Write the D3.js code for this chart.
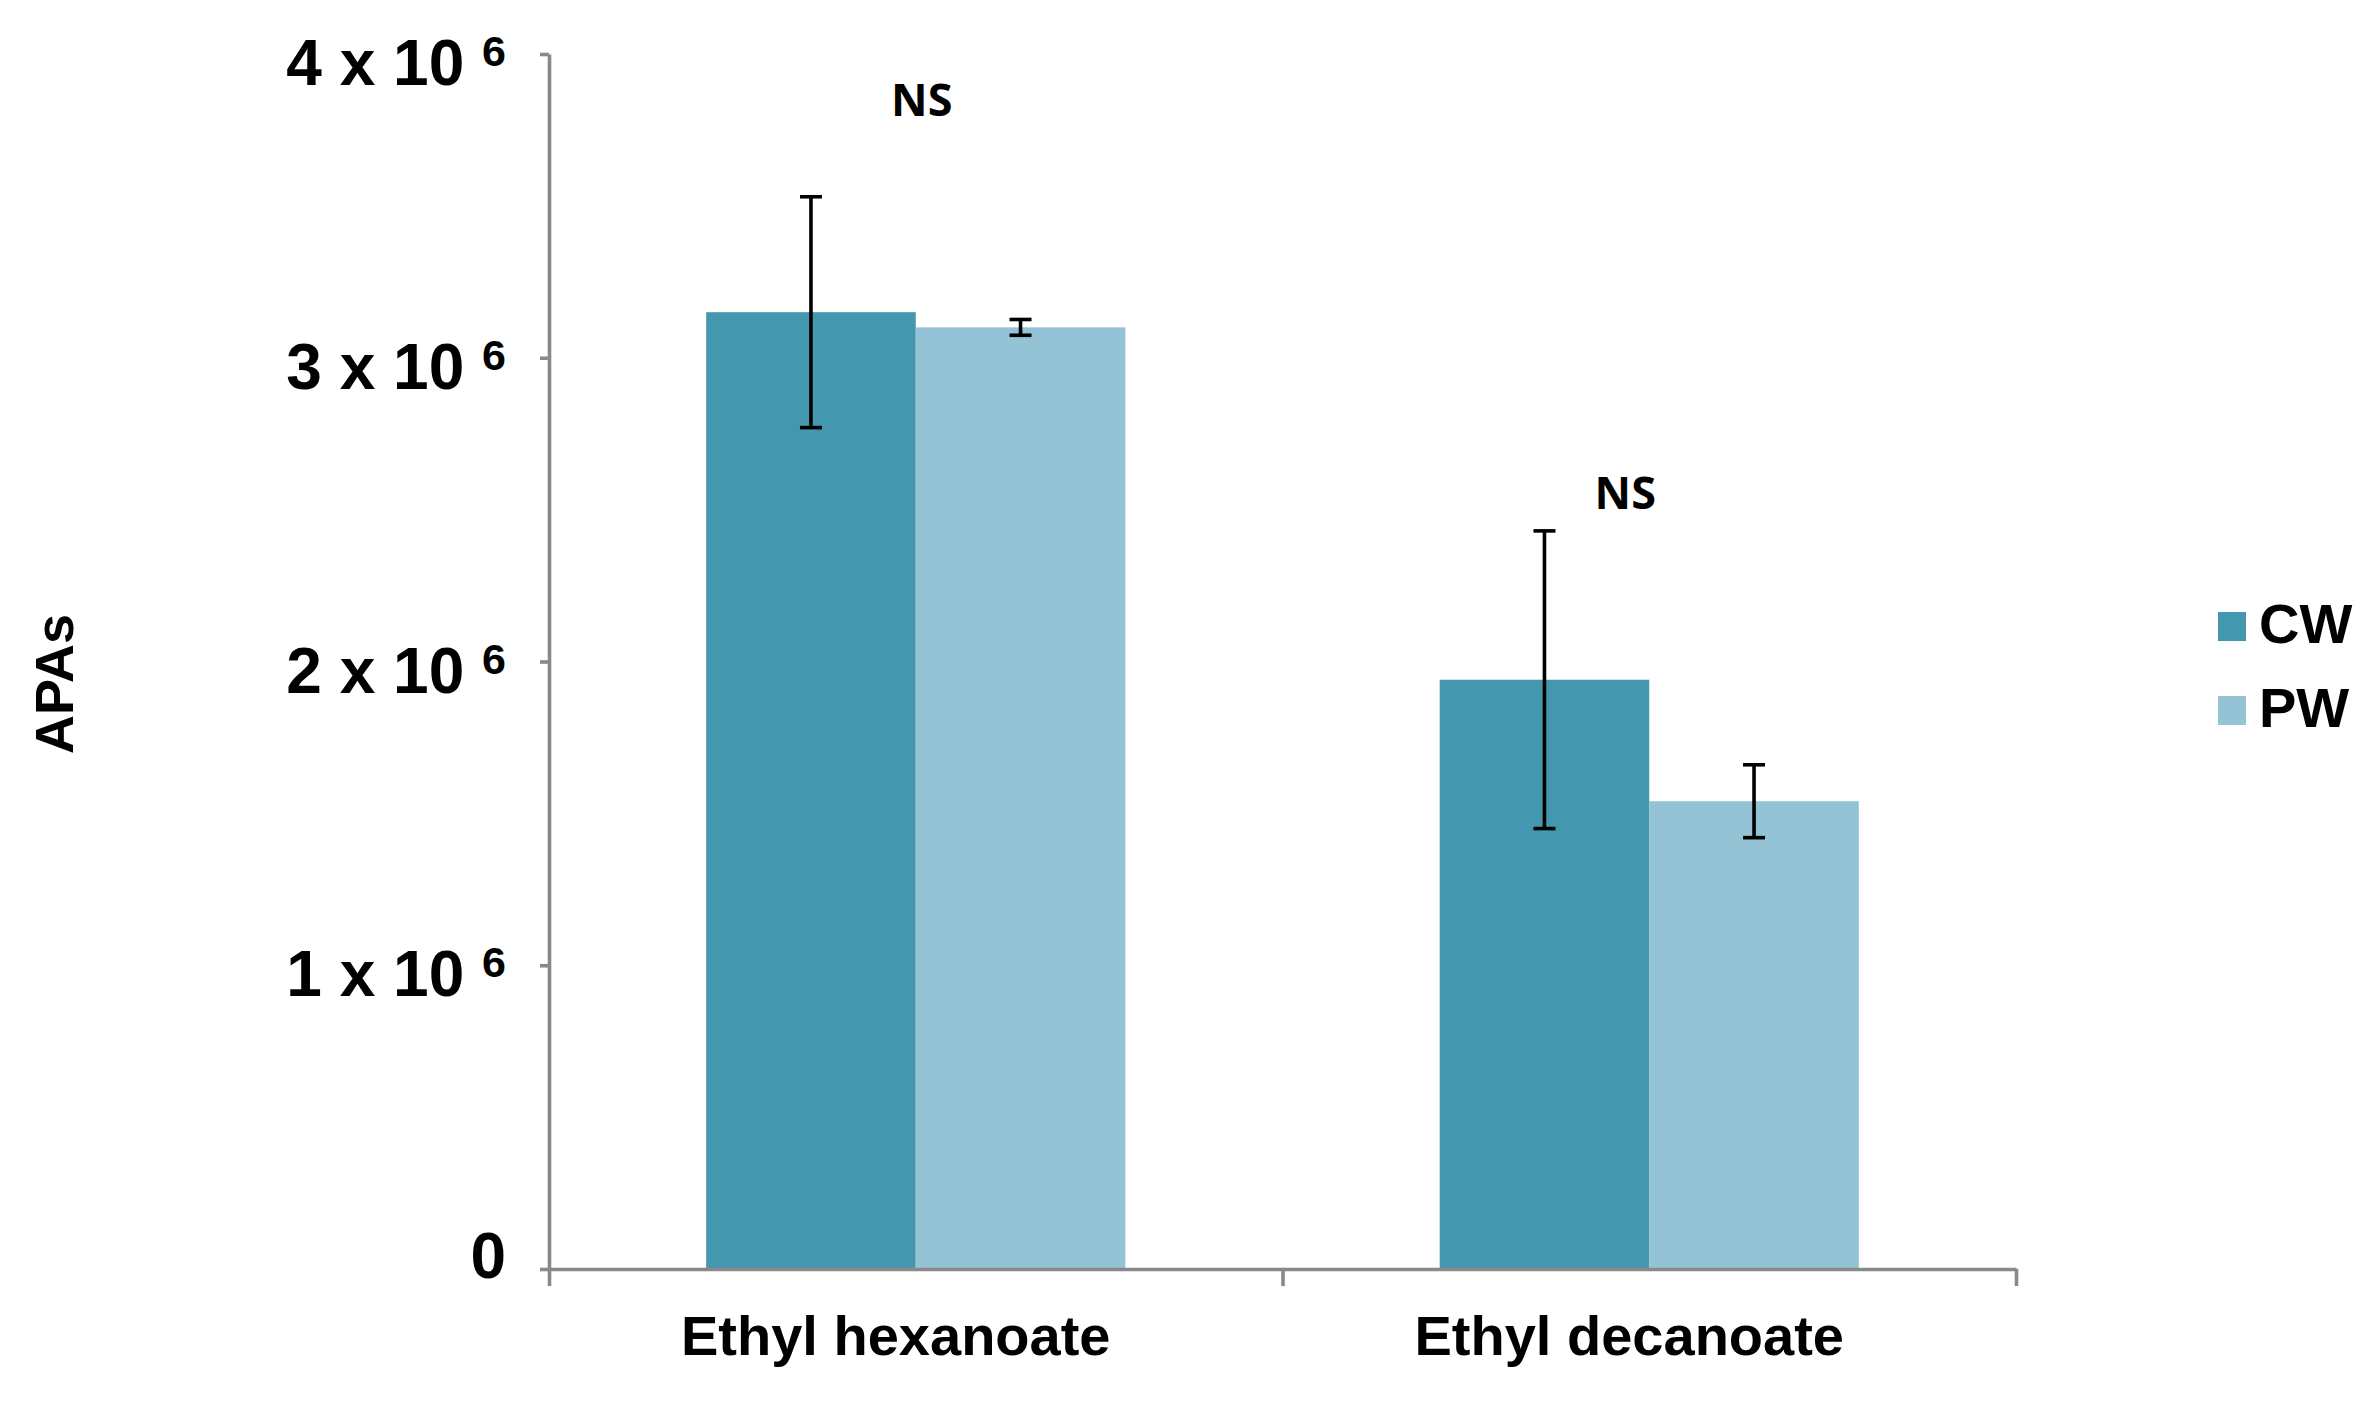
<!DOCTYPE html>
<html>
<head>
<meta charset="utf-8">
<script src="https://cdn.jsdelivr.net/npm/d3@7"></script>
<style>
  body { margin: 0; background: #fff; }
  text { white-space: pre; }
</style>
</head>
<body>
<svg id="chart"></svg>
<script>
// data
const categories = ["Ethyl hexanoate", "Ethyl decanoate"];
const series = ["CW", "PW"];
const cwValues = [3.15e6, 1.94e6];
const cwErrors = [0.38e6, 0.49e6];
const pwValues = [3.10e6, 1.54e6];
const pwErrors = [0.026e6, 0.12e6];
const yTicks = [0, 1e6, 2e6, 3e6, 4e6];
const yTickLabels = ["0", "1 x 10", "2 x 10", "3 x 10", "4 x 10"];
const yTickExp = ["", "6", "6", "6", "6"];
const nsLabels = ["NS", "NS"];
const nsLevels = [3.796e6, 2.502e6];

const colors = { CW: "#4398b0", PW: "#93c3d4" };
const axisColor = "#898989";

const width = 2380, height = 1402;
const plot = { left: 549, right: 2016, top: 54, bottom: 1269 };

const svg = d3.select("#chart")
    .attr("width", width)
    .attr("height", height);

svg.append("rect").attr("width", width).attr("height", height).attr("fill", "#fff");

const yScale = d3.scaleLinear().domain([0, 4e6]).range([plot.bottom, plot.top]);
const xScale = d3.scaleBand().domain(categories).range([plot.left, plot.right]).padding(0);
const xSub = d3.scaleBand().domain(series)
    .range([0, xScale.bandwidth()])
    .paddingInner(0)
    .paddingOuter(0.75);

const rows = [];
categories.forEach((c, i) => {
    rows.push({ cat: c, s: "CW", v: cwValues[i], e: cwErrors[i] });
    rows.push({ cat: c, s: "PW", v: pwValues[i], e: pwErrors[i] });
});

// bars
svg.append("g")
    .selectAll("rect")
    .data(rows)
    .join("rect")
    .attr("x", d => xScale(d.cat) + xSub(d.s))
    .attr("width", xSub.bandwidth())
    .attr("y", d => yScale(d.v))
    .attr("height", d => yScale(0) - yScale(d.v))
    .attr("fill", d => colors[d.s]);

// error bars
const capW = 22;
const err = svg.append("g")
    .attr("stroke", "#000")
    .attr("stroke-width", 3.6)
    .selectAll("g")
    .data(rows)
    .join("g")
    .attr("transform", d => `translate(${xScale(d.cat) + xSub(d.s) + xSub.bandwidth() / 2},0)`);
err.append("line")
    .attr("y1", d => yScale(d.v + d.e))
    .attr("y2", d => yScale(d.v - d.e));
err.append("line")
    .attr("x1", -capW / 2).attr("x2", capW / 2)
    .attr("y1", d => yScale(d.v + d.e)).attr("y2", d => yScale(d.v + d.e));
err.append("line")
    .attr("x1", -capW / 2).attr("x2", capW / 2)
    .attr("y1", d => yScale(d.v - d.e)).attr("y2", d => yScale(d.v - d.e));

// y axis
const yAxis = svg.append("g")
    .attr("transform", `translate(${plot.left},0)`)
    .call(d3.axisLeft(yScale).tickValues(yTicks).tickSize(9).tickSizeOuter(0).tickFormat(""));
yAxis.select(".domain").attr("stroke", axisColor).attr("stroke-width", 3.6);
yAxis.selectAll(".tick line").attr("stroke", axisColor).attr("stroke-width", 3.6);

const yLab = svg.append("g")
    .selectAll("text")
    .data(yTicks)
    .join("text")
    .attr("x", 506)
    .attr("y", (d, i) => yScale(d) + (yTickExp[i] ? 31 : 9))
    .attr("text-anchor", "end")
    .attr("font-family", "'Liberation Sans', Arial, sans-serif")
    .attr("font-weight", "bold")
    .attr("font-size", 64)
    .attr("fill", "#000");
yLab.append("tspan").text((d, i) => yTickLabels[i] + (yTickExp[i] ? " " : ""));
yLab.filter((d, i) => yTickExp[i])
    .append("tspan")
    .attr("font-size", 43)
    .attr("dy", -19)
    .text(d => yTickExp[yTicks.indexOf(d)]);

// x axis: line plus ticks at category boundaries
const xEdge = d3.scaleLinear().domain([0, categories.length]).range([plot.left, plot.right]);
const xAxis = svg.append("g")
    .attr("transform", `translate(0,${plot.bottom})`)
    .call(d3.axisBottom(xEdge).ticks(categories.length).tickSize(17).tickSizeOuter(0).tickFormat(""));
xAxis.select(".domain").attr("stroke", axisColor).attr("stroke-width", 3.6);
xAxis.selectAll(".tick line").attr("stroke", axisColor).attr("stroke-width", 3.6);

svg.append("g")
    .selectAll("text")
    .data(categories)
    .join("text")
    .attr("x", d => xScale(d) + xScale.bandwidth() / 2 - 20)
    .attr("y", 1355)
    .attr("text-anchor", "middle")
    .attr("font-family", "'Liberation Sans', Arial, sans-serif")
    .attr("font-weight", "bold")
    .attr("font-size", 56)
    .attr("fill", "#000")
    .text(d => d);

// NS annotations
const nsDx = [6, -24];
svg.append("g")
    .selectAll("text")
    .data(nsLabels)
    .join("text")
    .attr("x", (d, i) => xScale(categories[i]) + xScale.bandwidth() / 2 + nsDx[i])
    .attr("y", (d, i) => yScale(nsLevels[i]))
    .attr("text-anchor", "middle")
    .attr("font-family", "'Open Sans', 'Noto Sans', sans-serif")
    .attr("font-weight", 700)
    .attr("font-size", 45)
    .attr("fill", "#000")
    .text(d => d);

// y title
svg.append("text")
    .attr("transform", "translate(73,684) rotate(-90)")
    .attr("text-anchor", "middle")
    .attr("font-family", "'Liberation Sans', Arial, sans-serif")
    .attr("font-weight", "bold")
    .attr("font-size", 54)
    .attr("fill", "#000")
    .text("APAs");

// legend
const legend = svg.append("g")
    .selectAll("g")
    .data(series)
    .join("g")
    .attr("transform", (d, i) => `translate(2218,${612 + i * 84})`);
legend.append("rect")
    .attr("width", 28).attr("height", 29)
    .attr("fill", d => colors[d]);
legend.append("text")
    .attr("x", 41).attr("y", 31)
    .attr("font-family", "'Liberation Sans', Arial, sans-serif")
    .attr("font-weight", "bold")
    .attr("font-size", 56)
    .attr("fill", "#000")
    .text(d => d);
</script>
</body>
</html>
